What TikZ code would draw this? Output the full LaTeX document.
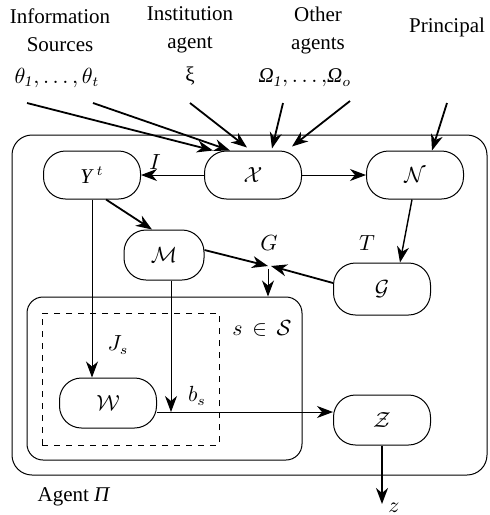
\documentclass[tikz,border=0pt]{standalone}
\usepackage{fontspec}
\setmainfont{Liberation Serif}
\usetikzlibrary{arrows.meta,calc}
\begin{document}
\begin{tikzpicture}[x=0.5pt,y=-0.5pt,
  font=\fontsize{10.5}{12}\selectfont,
  nd/.style={draw,line width=0.5pt,rounded corners=11pt,minimum width=48.5pt,minimum height=24pt,inner sep=0pt},
  arr/.style={-{Stealth[length=8pt,width=6pt,inset=2.5pt]},line width=0.5pt},
  tarr/.style={arr,line width=0.9pt},
  lbl/.style={inner sep=0pt}]
\useasboundingbox (0,0) rectangle (489,515);
% boxes
\draw[line width=0.5pt,rounded corners=10pt] (12,135) rectangle (487,475);
\node[draw,line width=0.5pt,rounded corners=8pt,minimum width=137.5pt,minimum height=81.5pt,inner sep=0pt] (S) at (164.5,378.5) {};
\node[draw,dashed,line width=0.5pt,minimum width=88.5pt,minimum height=66pt,inner sep=0pt] (D) at (130.5,379) {};
% nodes
\node[nd] (Y) at (92,175) {\textit{Υ}$^{\,t}$};
\node[nd] (X) at (253,175) {$\mathcal{X}$};
\node[nd] (N) at (415,175) {$\mathcal{N}$};
\node[nd,minimum width=40pt,minimum height=25pt] (M) at (164,255) {$\mathcal{M}$};
\node[nd,minimum height=26pt] (G) at (382,289) {$\mathcal{G}$};
\node[nd,minimum height=25pt] (W) at (108,403) {$\mathcal{W}$};
\node[nd,minimum height=25pt] (Z) at (382,420) {$\mathcal{Z}$};
% top labels
\node[lbl,align=center] (t1) at (60,30) {Information\\[2pt]Sources};
\node[lbl,align=center] (t2) at (190,30) {Institution\\[2pt]agent};
\node[lbl,align=center] (t3) at (318,30) {Other\\[2pt]agents};
\node[lbl] (t4) at (447,27) {Principal};
\node[lbl] (m1) at (57,78) {$\theta_{\mathit{1}},\ldots,\theta_t$};
\node[lbl] (m2) at (190,76) {ξ};
\node[lbl] (m3) at (305,78) {\textit{Ω}$_{\mathit{1}},\ldots,$\textit{Ω}$_o$};
% free ends
\coordinate (th1) at (27,103);
\coordinate (tht) at (93,103);
\coordinate (xi) at (190,103);
\coordinate (om1) at (283,103);
\coordinate (om0) at (350,101);
\coordinate (pr) at (447,103);
\coordinate (J) at (268,266);
\coordinate (z) at (382,504);
% input arrows
\draw[tarr] (th1) -- ($(X.north)+(-40,0)$);
\draw[tarr] (tht) -- ($(X.north)+(-23,0)$);
\draw[tarr] (xi) -- ($(X.north)+(-6,-3)$);
\draw[tarr] (om1) -- ($(X.north)+(19,-2)$);
\draw[tarr] (om0) -- ($(X.north)+(39,-4)$);
\draw[tarr] (pr) -- ($(N.north)+(17,0)$);
% internal arrows
\draw[arr] (X.west) -- (Y.east);
\draw[arr] (X.east) -- (N.east -| N.west);
\draw[tarr] ($(Y.south)+(14,0)$) -- ($(M.north)+(-12,0)$);
\draw[arr,line width=0.7pt] ($(N.south)+(-3,0)$) -- ($(G.north)+(18,0)$);
\draw[tarr] ($(M.east)+(0,-5)$) -- (J);
\draw[tarr] ($(G.west)+(0,-6)$) -- ($(J)+(3,0)$);
\draw[arr] ($(J)+(0,3)$) -- (S.north -| J);
\draw[arr] (Y.south) -- (Y.south |- W.north);
\coordinate (wa) at ($(W.east)+(0,9)$);
\coordinate (zb) at ($(Z.west)+(0,-8)$);
\draw[arr] (wa) -- (zb);
\coordinate (bj) at (171,412);
\draw[arr] (M.south -| bj) -- (bj);
\draw[tarr] (Z.south) -- (z);
% edge labels
\node[lbl] (lI) at (155,162) {$I$};
\node[lbl] (lJ) at (118,345) {$J_s$};
\node[lbl] (lb) at (197,396) {$b_s$};
\node[lbl] (lG) at (269,243) {$G$};
\node[lbl] (lT) at (367,243) {$T$};
\node[lbl] (lS) at (262,328) {$s\,\in\,\mathcal{S}$};
\node[lbl] (lz) at (394,508) {$z$};
\node[lbl] (ag) at (74,497) {Agent \textit{Π}};
\end{tikzpicture}
\end{document}
